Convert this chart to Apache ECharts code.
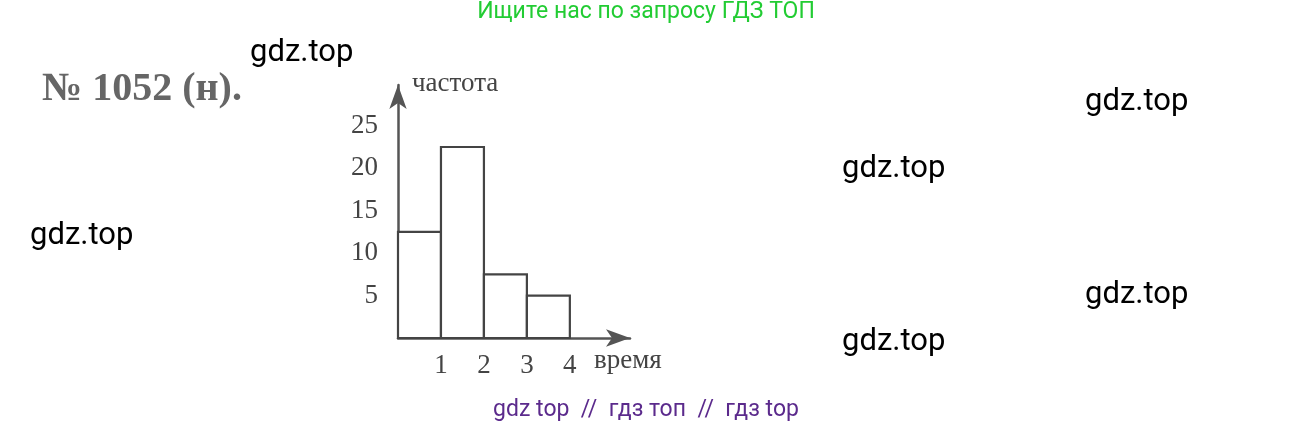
<!DOCTYPE html>
<html><head><meta charset="utf-8">
<script src="https://cdn.jsdelivr.net/npm/echarts@6/dist/echarts.min.js"></script>
<style>html,body{margin:0;padding:0;background:#fff}#c{width:1292px;height:431px}</style>
</head><body><div id="c"></div>
<script>
const binStarts = [0, 1, 2, 3];
const binEnds = [1, 2, 3, 4];
const frequencies = [12.5, 22.5, 7.5, 5];
const yTicks = [5, 10, 15, 20, 25];
const xTicks = [1, 2, 3, 4];

const chart = echarts.init(document.getElementById('c'));
const serif = '"Liberation Serif", "DejaVu Serif", serif';
const wm = (x, y) => ({type:'text', left:x, top:y, style:{text:'gdz.top', fontFamily:'Roboto', fontSize:31, fill:'#000'}});
chart.setOption({
  animation:false,
  grid:{left:398, right:662, top:85, bottom:93},
  xAxis:{type:'value', min:0, max:5.4, interval:1,
    axisLine:{show:true, symbol:['none','arrow'], symbolSize:[13,24], lineStyle:{color:'#555', width:2.5}},
    axisTick:{show:false}, splitLine:{show:false},
    axisLabel:{color:'#444', fontFamily:serif, fontSize:27, margin:14,
      formatter:v => xTicks.includes(v) ? String(v) : ''}},
  yAxis:{type:'value', min:0, max:29.8, interval:5,
    axisLine:{show:true, symbol:['none','arrow'], symbolSize:[13,24], lineStyle:{color:'#555', width:2.5}},
    axisTick:{show:false}, splitLine:{show:false},
    axisLabel:{color:'#444', fontFamily:serif, fontSize:27, margin:20,
      formatter:v => yTicks.includes(v) ? String(v) : ''}},
  series:[{type:'custom',
    data: frequencies.map((f,i)=>[binStarts[i], binEnds[i], f]),
    renderItem:(params, api)=>{
      const p0 = api.coord([api.value(0), api.value(2)]);
      const p1 = api.coord([api.value(1), 0]);
      return {type:'rect', shape:{x:p0[0], y:p0[1], width:p1[0]-p0[0], height:p1[1]-p0[1]},
        style:{fill:'#fff', stroke:'#444', lineWidth:2.2}};
    }}],
  graphic:[
    {type:'text', left:'center', top:1, style:{text:'Ищите нас по запросу ГДЗ ТОП', fontFamily:'Roboto', fontSize:23, fill:'#22cc33'}},
    {type:'text', left:'center', top:399, style:{text:'gdz top  //  гдз топ  //  гдз top', fontFamily:'Roboto', fontSize:23, fill:'#5b2a8c'}},
    {type:'text', left:42, top:70, style:{text:'№ 1052 (н).', fontFamily:serif, fontWeight:'bold', fontSize:40, fill:'#666'}},
    {type:'text', left:412, top:70, style:{text:'частота', fontFamily:serif, fontSize:27, fill:'#444'}},
    {type:'text', left:594, top:347, style:{text:'время', fontFamily:serif, fontSize:27, fill:'#444'}},
    wm(250,38), wm(1085,87), wm(842,154), wm(30,221), wm(1085,280), wm(842,327)
  ]
});
</script></body></html>
